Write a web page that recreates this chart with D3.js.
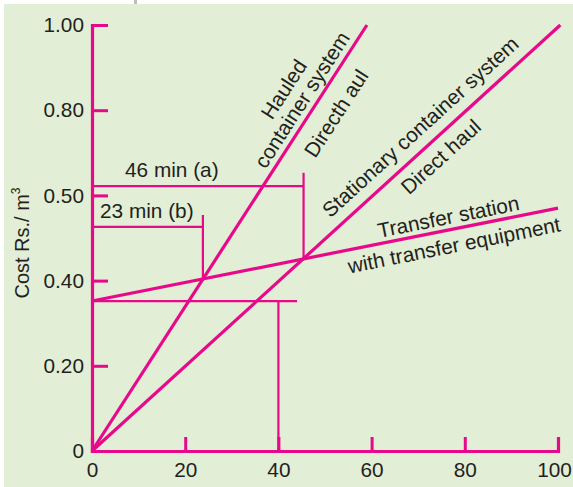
<!DOCTYPE html>
<html><head><meta charset="utf-8">
<script src="https://cdn.jsdelivr.net/npm/d3@7"></script>
<style>
html,body{margin:0;padding:0;background:#fff;}
svg{display:block;}
text{font-family:"Liberation Sans",Arial,Helvetica,sans-serif;fill:#231f20;}
</style></head>
<body>
<svg id="chart" width="573" height="487"></svg>
<script>
// ---- data ----
const xTicks = [0, 20, 40, 60, 80, 100];
const yTicks = [0, 0.2, 0.4, 0.6, 0.8, 1.0];
const yTickLabels = ["0", "0.20", "0.40", "0.50", "0.80", "1.00"];
const hauledLine = [[0, 0], [59, 1.0]];
const stationaryLine = [[0, 0], [100.5, 1.0]];
const transferLine = [[0, 0.352], [100, 0.57]];
const guideAHoriz = [[0, 0.622], [45.4, 0.622]];
const guideAVert = [[45.4, 0.653], [45.4, 0.451]];
const guideBHoriz = [[0, 0.526], [23.8, 0.526]];
const guideBVert = [[23.8, 0.554], [23.8, 0.404]];
const guideCHoriz = [[0, 0.352], [44, 0.352]];
const guideCVert = [[40, 0.352], [40, 0]];
const guideLabels = ["46 min (a)", "23 min (b)"];
const hauledLabels = ["Hauled", "container system", "Directh aul"];
const stationaryLabels = ["Stationary container system", "Direct haul"];
const transferLabels = ["Transfer station", "with transfer equipment"];
const yTitle = "Cost Rs./ m";

// ---- drawing ----
const MAG = "#e8098b";
const FS = 20.8;
const svg = d3.select("#chart");
svg.append("rect").attr("x", 4).attr("y", 4).attr("width", 569).attr("height", 483).attr("fill", "#e2eed6");
svg.append("line").attr("x1", 135.5).attr("x2", 135.5).attr("y1", 0).attr("y2", 4).attr("stroke", "#bdbdbd").attr("stroke-width", 3);

const x = d3.scaleLinear().domain([0, 100]).range([92, 558]);
const y = d3.scaleLinear().domain([0, 1]).range([451, 25]);
const line = d3.line().x(d => x(d[0])).y(d => y(d[1]));

// guides
[guideAHoriz, guideAVert, guideBHoriz, guideBVert, guideCHoriz, guideCVert].forEach(g => {
  svg.append("path").attr("d", line(g)).attr("fill", "none").attr("stroke", MAG).attr("stroke-width", 2.2);
});

// main lines
[hauledLine, stationaryLine, transferLine].forEach(l => {
  svg.append("path").attr("d", line(l)).attr("fill", "none").attr("stroke", MAG).attr("stroke-width", 3.2);
});

// axes
const yAxis = d3.axisLeft(y).tickValues(yTicks).tickFormat((d, i) => yTickLabels[i])
  .tickSize(-16).tickSizeOuter(-16).tickPadding(8);
const gy = svg.append("g").attr("transform", `translate(${x(0)},0)`).call(yAxis);
const xAxis = d3.axisBottom(x).tickValues(xTicks).tickFormat(d => String(d))
  .tickSize(-14).tickSizeOuter(-14).tickPadding(11);
const gx = svg.append("g").attr("transform", `translate(0,${y(0)})`).call(xAxis);
[gx, gy].forEach(g => {
  g.select(".domain").attr("stroke", MAG).attr("stroke-width", 3.2).attr("fill", "none");
  g.selectAll(".tick line").attr("stroke", MAG).attr("stroke-width", 3);
  g.selectAll(".tick text").attr("font-size", FS).attr("fill", "#231f20")
    .style("font-family", '"Liberation Sans",Arial,sans-serif');
});
gy.selectAll(".tick").filter(d => d === 0).select("line").remove();
gx.selectAll(".tick").filter(d => d === 100).select("text").attr("dx", -4);

// y title
const yt = svg.append("text").attr("transform", "translate(29,243) rotate(-90)")
  .attr("text-anchor", "middle").attr("font-size", 20);
yt.append("tspan").text(yTitle);
yt.append("tspan").attr("font-size", 12).attr("dy", -9).text("3");

// guide labels
svg.append("text").attr("x", 125).attr("y", 177).attr("font-size", FS).text(guideLabels[0]);
svg.append("text").attr("x", 100).attr("y", 218).attr("font-size", FS).text(guideLabels[1]);

// labels along lines
function lineLabel(l, t, d, txt) {
  const x0 = x(l[0][0]), y0 = y(l[0][1]), x1 = x(l[1][0]), y1 = y(l[1][1]);
  const len = Math.hypot(x1 - x0, y1 - y0);
  const ux = (x1 - x0) / len, uy = (y1 - y0) / len;
  const nx = uy, ny = -ux;
  const px = x0 + ux * t + nx * d, py = y0 + uy * t + ny * d;
  const ang = Math.atan2(y1 - y0, x1 - x0) * 180 / Math.PI;
  svg.append("text").attr("transform", `translate(${px},${py}) rotate(${ang})`)
    .attr("text-anchor", "middle").attr("dy", "0.35em").attr("font-size", FS).text(txt);
}
lineLabel(hauledLine, 408, 35, hauledLabels[0]);
lineLabel(hauledLine, 409, 14, hauledLabels[1]);
lineLabel(hauledLine, 416, -22, hauledLabels[2]);
lineLabel(stationaryLine, 461, 19, stationaryLabels[0]);
lineLabel(stationaryLine, 456, -17, stationaryLabels[1]);
lineLabel(transferLine, 366, 13, transferLabels[0]);
lineLabel(transferLine, 366, -16, transferLabels[1]);
</script>
</body></html>
